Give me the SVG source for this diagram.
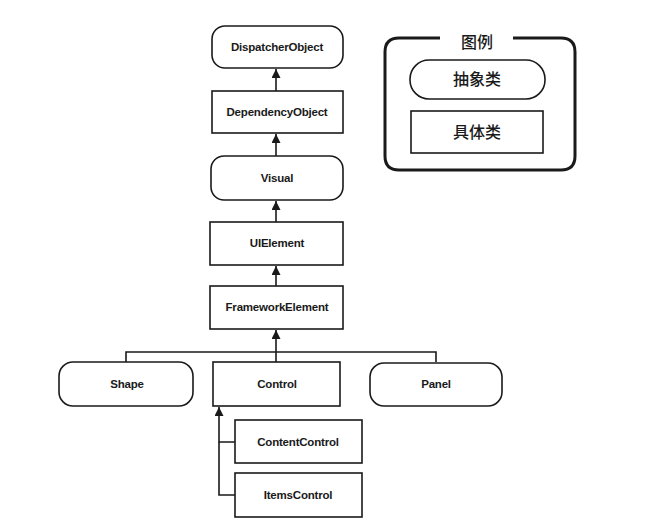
<svg xmlns="http://www.w3.org/2000/svg" width="650" height="524" viewBox="0 0 650 524">
<defs>
<style>
.box{fill:#fff;stroke:#1a1a1a;stroke-width:1.6}
.lbl{font-family:"Liberation Sans",Arial,sans-serif;font-weight:bold;font-size:11.5px;fill:#1a1a1a;text-anchor:middle;letter-spacing:-0.2px}
.cjk{font-family:"Noto Sans CJK SC","Noto Sans",sans-serif;font-weight:500;font-size:16px;fill:#1a1a1a;text-anchor:middle}
.con{fill:none;stroke:#1a1a1a;stroke-width:1.6}
</style>
<marker id="arr" viewBox="0 0 10 10" refX="10" refY="5" markerWidth="10" markerHeight="9" markerUnits="userSpaceOnUse" orient="auto">
<path d="M0,0 L10,5 L0,10 Z" fill="#1a1a1a"/>
</marker>
</defs>
<rect width="650" height="524" fill="#fff"/>
<g id="connectors">
<line class="con" x1="276" y1="91" x2="276" y2="69" marker-end="url(#arr)"/>
<line class="con" x1="276" y1="156" x2="276" y2="134" marker-end="url(#arr)"/>
<line class="con" x1="276" y1="222" x2="276" y2="201" marker-end="url(#arr)"/>
<line class="con" x1="276" y1="286" x2="276" y2="266" marker-end="url(#arr)"/>
<line class="con" x1="276" y1="362" x2="276" y2="330" marker-end="url(#arr)"/>
<polyline class="con" points="126,362 126,352 276,352"/>
<polyline class="con" points="436,362 436,352 276,352"/>
<polyline class="con" points="235,442 219,442 219,407" marker-end="url(#arr)"/>
<polyline class="con" points="235,495 219,495 219,442"/>
</g>
<g id="DispatcherObject">
<rect class="box" x="212" y="26" width="131" height="42" rx="13"/>
<text class="lbl" x="277" y="51">DispatcherObject</text>
</g>
<g id="DependencyObject">
<rect class="box" x="212" y="91" width="131" height="42"/>
<text class="lbl" x="277" y="116">DependencyObject</text>
</g>
<g id="Visual">
<rect class="box" x="211" y="156" width="132" height="44" rx="13"/>
<text class="lbl" x="277" y="182">Visual</text>
</g>
<g id="UIElement">
<rect class="box" x="210" y="222" width="133" height="43"/>
<text class="lbl" x="277" y="247">UIElement</text>
</g>
<g id="FrameworkElement">
<rect class="box" x="210" y="286" width="133" height="43"/>
<text class="lbl" x="277" y="311">FrameworkElement</text>
</g>
<g id="Shape">
<rect class="box" x="59" y="362" width="134" height="44" rx="14"/>
<text class="lbl" x="127" y="388">Shape</text>
</g>
<g id="Control">
<rect class="box" x="213" y="362" width="127" height="44"/>
<text class="lbl" x="277" y="388">Control</text>
</g>
<g id="Panel">
<rect class="box" x="370" y="363" width="132" height="43" rx="14"/>
<text class="lbl" x="436" y="388">Panel</text>
</g>
<g id="ContentControl">
<rect class="box" x="235" y="420" width="127" height="43"/>
<text class="lbl" x="298" y="446">ContentControl</text>
</g>
<g id="ItemsControl">
<rect class="box" x="235" y="473" width="127" height="44"/>
<text class="lbl" x="298" y="499">ItemsControl</text>
</g>
<g id="legend">
<path d="M440,38 L399,38 Q385,38 385,52 L385,156 Q385,170 399,170 L561,170 Q575,170 575,156 L575,52 Q575,38 561,38 L513,38" fill="none" stroke="#1a1a1a" stroke-width="3"/>
<text class="cjk" x="477" y="48">图例</text>
<rect class="box" x="410" y="60" width="135" height="39" rx="19"/>
<text class="cjk" x="477" y="85">抽象类</text>
<rect class="box" x="411" y="111" width="132" height="42"/>
<text class="cjk" x="477" y="138">具体类</text>
</g>
</svg>
